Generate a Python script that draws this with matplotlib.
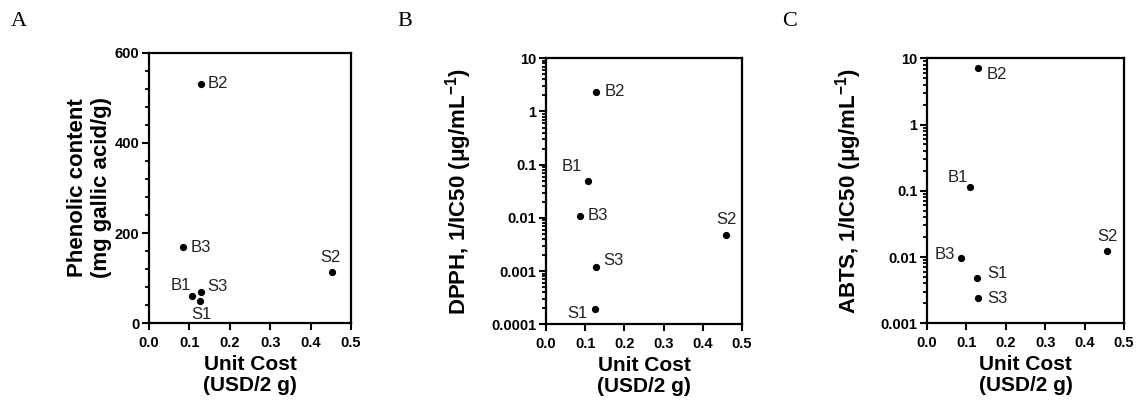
import matplotlib

matplotlib.use("Agg")
import matplotlib.pyplot as plt
from matplotlib.ticker import MultipleLocator, FuncFormatter, LogLocator, NullFormatter

plt.rcParams["font.family"] = ["Liberation Sans", "DejaVu Sans"]
plt.rcParams["mathtext.fontset"] = "custom"
plt.rcParams["mathtext.rm"] = "Liberation Sans:bold"
plt.rcParams["mathtext.default"] = "rm"

# samples, same order in every panel
names = ["B1", "B2", "B3", "S1", "S2", "S3"]
# unit cost (USD / 2 g), read per panel
cost_a = [0.106, 0.129, 0.083, 0.125, 0.454, 0.129]
cost_b = [0.106, 0.128, 0.086, 0.125, 0.458, 0.128]
cost_c = [0.108, 0.130, 0.086, 0.128, 0.458, 0.130]
phenolic = [60, 531, 169, 49, 113, 69]
dpph = [0.049, 2.36, 0.0109, 0.000191, 0.00484, 0.00121]
abts = [0.113, 7.06, 0.0098, 0.00489, 0.0125, 0.00244]

# label offsets (pixels) and alignment for each point
lab_a = {"B1": (-11, 11, "center"), "B2": (7, 0, "left"), "B3": (8, 0, "left"),
         "S1": (2, -13, "center"), "S2": (-2, 15, "center"), "S3": (6, 6, "left")}
lab_b = {"B1": (-16, 15, "center"), "B2": (8, 0, "left"), "B3": (8, 0, "left"),
         "S1": (-7, -4, "right"), "S2": (1, 15, "center"), "S3": (7, 6, "left")}
lab_c = {"B1": (-12, 10, "center"), "B2": (8, -6, "left"), "B3": (-6, 3, "right"),
         "S1": (10, 4, "left"), "S2": (0, 14, "center"), "S3": (9, -1, "left")}

fig = plt.figure(figsize=(11.39, 4.0), dpi=100)

axes_pos = [
    [149 / 1139, 76.7 / 400, 202 / 1139, 270.6 / 400],
    [546 / 1139, 75.7 / 400, 196 / 1139, 266 / 400],
    [927 / 1139, 76.7 / 400, 197 / 1139, 265 / 400],
]


def style_axis(ax):
    for sp in ax.spines.values():
        sp.set_linewidth(1.6)
    ax.tick_params(which="major", direction="out", length=5, width=1.5,
                   labelsize=10.5, pad=2)
    ax.tick_params(axis="x", which="major", pad=4)
    ax.tick_params(which="minor", direction="out", length=3, width=1.3)
    ax.tick_params(axis="x", which="minor", length=0)
    ax.set_xlim(0, 0.5)
    ax.xaxis.set_major_locator(MultipleLocator(0.1))
    ax.xaxis.set_major_formatter(FuncFormatter(lambda v, p: f"{v:.1f}"))
    ax.set_xlabel("Unit Cost\n(USD/2 g)", fontsize=15, fontweight="bold",
                  linespacing=1.08, labelpad=4)


def bold_ticks(ax):
    for t in ax.get_xticklabels() + ax.get_yticklabels():
        t.set_fontweight("bold")


def draw_points(ax, xs, ys, offs):
    ax.plot(xs, ys, "o", color="black", markersize=4.2, zorder=3)
    for n, x, y in zip(names, xs, ys):
        dx, dy, ha = offs[n]
        ax.annotate(n, (x, y), xytext=(dx, dy), textcoords="offset pixels",
                    ha=ha, va="center", fontsize=12, color="#222222")


def log_axis(ax, lo, hi):
    ax.set_yscale("log")
    ax.set_ylim(lo, hi)
    ax.yaxis.set_major_locator(LogLocator(base=10, numticks=20))
    ax.yaxis.set_minor_locator(LogLocator(base=10, subs=range(2, 10), numticks=20))
    ax.yaxis.set_minor_formatter(NullFormatter())
    ax.yaxis.set_major_formatter(FuncFormatter(lambda v, p: f"{v:g}"))


# A
ax = fig.add_axes(axes_pos[0])
draw_points(ax, cost_a, phenolic, lab_a)
ax.set_ylim(0, 600)
ax.yaxis.set_major_locator(MultipleLocator(200))
ax.yaxis.set_minor_locator(MultipleLocator(40))
style_axis(ax)
ax.set_ylabel("Phenolic content\n(mg gallic acid/g)", fontsize=16,
              fontweight="bold", linespacing=1.15, labelpad=2)
bold_ticks(ax)

# B
ax = fig.add_axes(axes_pos[1])
draw_points(ax, cost_b, dpph, lab_b)
log_axis(ax, 1e-4, 10)
style_axis(ax)
ax.set_ylabel("DPPH, 1/IC50 (\u03bcg/mL$^{-1}$)", fontsize=16,
              fontweight="bold", labelpad=12)
bold_ticks(ax)

# C
ax = fig.add_axes(axes_pos[2])
draw_points(ax, cost_c, abts, lab_c)
log_axis(ax, 1e-3, 10)
style_axis(ax)
ax.set_ylabel("ABTS, 1/IC50 (\u03bcg/mL$^{-1}$)", fontsize=16,
              fontweight="bold", labelpad=12)
bold_ticks(ax)

for letter, x in zip(["A", "B", "C"], [11, 397, 782]):
    fig.text(x / 1139, 1 - 22 / 400, letter, fontsize=16,
             family="Liberation Serif", va="center", ha="left")

fig.savefig("out.png", dpi=100)
